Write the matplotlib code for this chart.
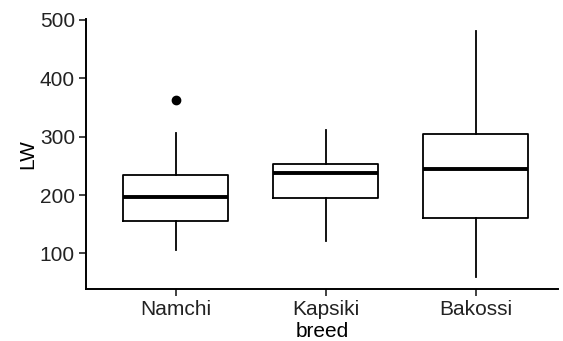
import matplotlib
matplotlib.use("Agg")
import matplotlib.pyplot as plt

categories = ["Namchi", "Kapsiki", "Bakossi"]
whislo = [105, 122, 60]
q1 = [156, 195, 160]
med = [196, 238, 244]
q3 = [235, 254, 305]
whishi = [306, 312, 481]
fliers = [[363], [], []]
yticks = [100, 200, 300, 400, 500]

plt.rcParams['font.family'] = ['Liberation Sans', 'DejaVu Sans']

fig = plt.figure(figsize=(5.63, 3.41), dpi=100)
ax = fig.add_axes([86/563, 1-289/341, (558-86)/563, (289-18.8)/341])

stats = []
for i, c in enumerate(categories):
    stats.append(dict(label=c, whislo=whislo[i], q1=q1[i], med=med[i], q3=q3[i],
                      whishi=whishi[i], fliers=fliers[i]))

ax.bxp(stats, positions=[1, 2, 3], widths=0.7, showcaps=False,
       boxprops=dict(color='black', linewidth=1.3),
       whiskerprops=dict(color='black', linewidth=1.3),
       medianprops=dict(color='black', linewidth=2.8, solid_capstyle='butt'),
       flierprops=dict(marker='o', markerfacecolor='black', markeredgecolor='black',
                       markersize=6, linestyle='none'))

ax.set_xlim(0.4, 3.547)
ax.set_ylim(39, 502)
ax.set_yticks(yticks)
ax.set_xticks([1, 2, 3])
ax.set_xticklabels(categories)

for s in ['top', 'right']:
    ax.spines[s].set_visible(False)
for s in ['left', 'bottom']:
    ax.spines[s].set_linewidth(1.4)
    ax.spines[s].set_color('black')

ax.tick_params(axis='both', length=5, width=1.3, color='#333333',
               labelsize=15, labelcolor='#222222', pad=3)

ax.set_xlabel("breed", fontsize=15, color='black', labelpad=2)
ax.set_ylabel("LW", fontsize=15, color='black', labelpad=2)

fig.savefig("out.png", dpi=100)
